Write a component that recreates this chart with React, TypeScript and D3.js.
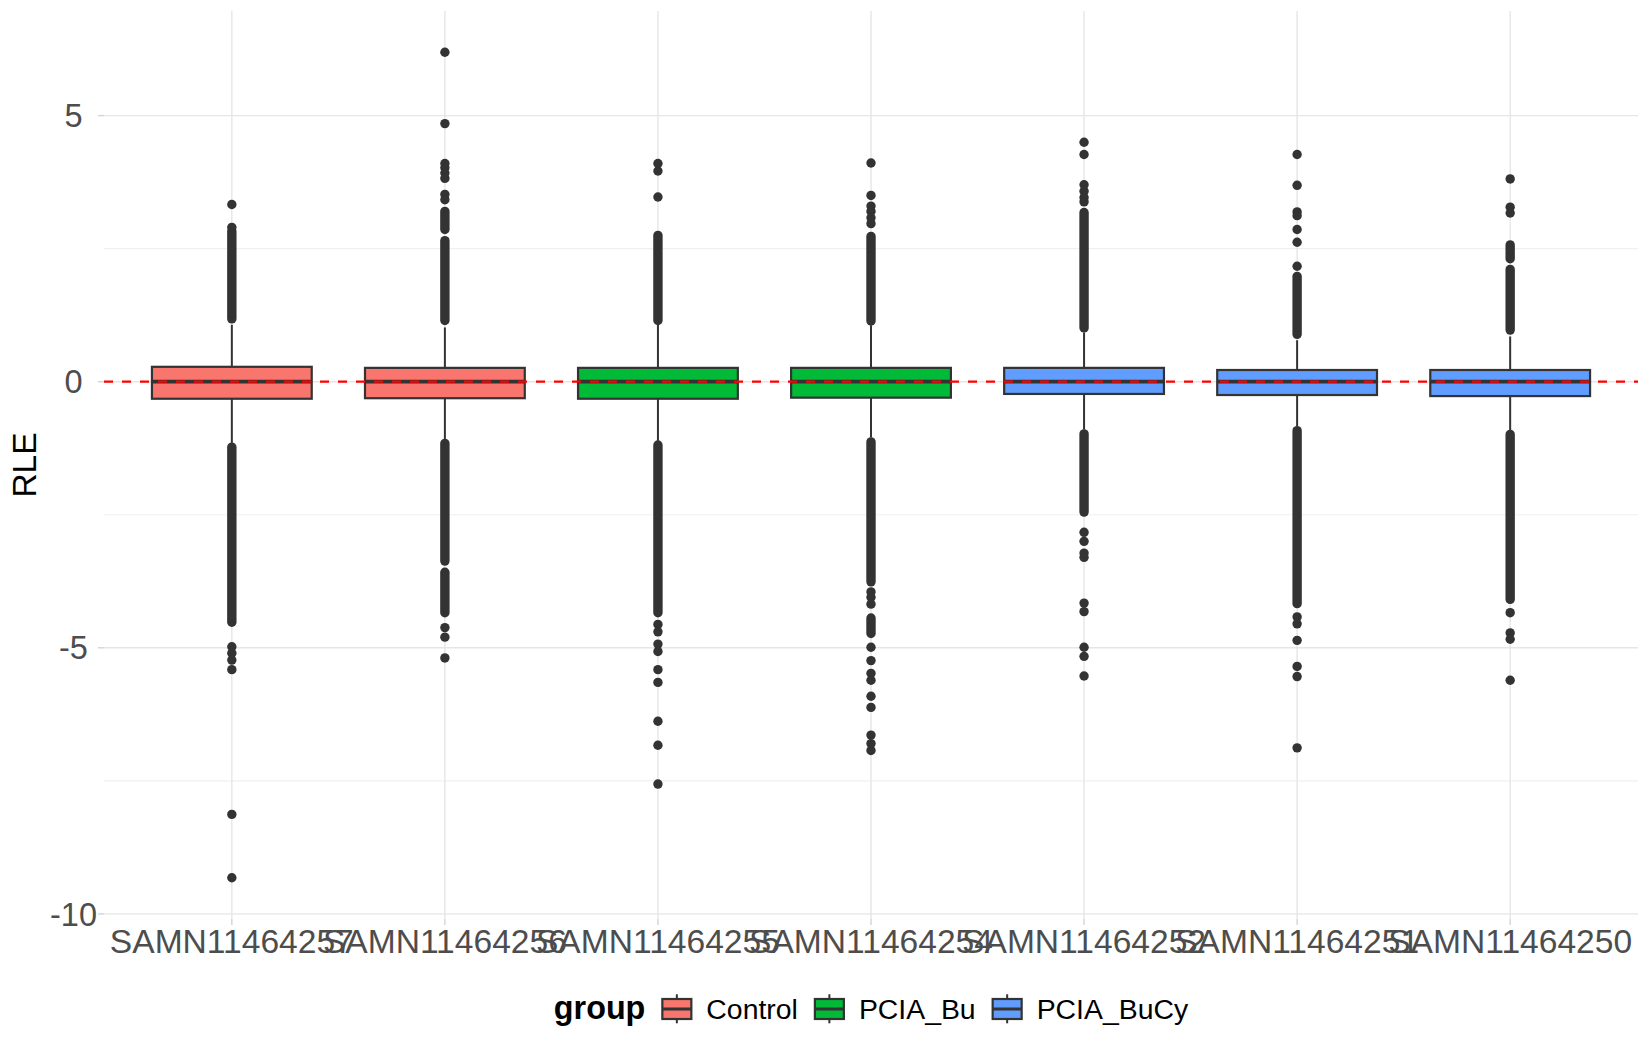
import React, { useEffect, useRef } from "react";
import * as d3 from "d3";

// samples in plotting order
const samples = [
  "SAMN11464257",
  "SAMN11464256",
  "SAMN11464255",
  "SAMN11464254",
  "SAMN11464252",
  "SAMN11464251",
  "SAMN11464250",
];
const sampleGroups = ["Control", "Control", "PCIA_Bu", "PCIA_Bu", "PCIA_BuCy", "PCIA_BuCy", "PCIA_BuCy"];

const groupNames = ["Control", "PCIA_Bu", "PCIA_BuCy"];
const groupColors = ["#F8766D", "#00BA38", "#619CFF"];

// box statistics (RLE)
const lowerWhisker = [-1.15, -1.08, -1.11, -1.05, -0.9, -0.84, -0.91];
const q1 = [-0.32, -0.31, -0.32, -0.3, -0.23, -0.25, -0.27];
const median = [0, 0, 0, 0, 0, 0, 0];
const q3 = [0.28, 0.26, 0.26, 0.26, 0.26, 0.22, 0.22];
const upperWhisker = [1.07, 1.02, 1.07, 1.06, 0.92, 0.78, 0.85];

// runs of outliers so dense they merge into one stroke: [from, to]
const outlierRuns: number[][][] = [
  [[1.18, 2.83], [-1.23, -4.52]],
  [[1.15, 2.65], [2.86, 3.2], [-1.16, -3.37], [-3.58, -4.34]],
  [[1.15, 2.75], [-1.19, -4.34]],
  [[1.14, 2.73], [-1.13, -3.76], [-4.44, -4.73]],
  [[1.01, 3.18], [-0.98, -2.45]],
  [[0.89, 1.98], [-0.92, -4.17]],
  [[0.97, 2.11], [2.31, 2.57], [-0.99, -4.09]],
];

// single outliers
const outlierPoints: number[][] = [
  [3.33, 2.9, -4.98, -5.1, -5.23, -5.41, -8.13, -9.32],
  [6.19, 4.85, 4.1, 4.02, 3.92, 3.82, 3.52, 3.42, -4.62, -4.8, -5.19],
  [4.1, 3.96, 3.47, -4.56, -4.7, -4.93, -5.07, -5.41, -5.65, -6.38, -6.83, -7.56],
  [4.11, 3.5, 3.3, 3.2, 3.08, 2.97, -3.95, -4.05, -4.18, -4.99, -5.24, -5.48, -5.61, -5.91, -6.12, -6.64, -6.8, -6.93],
  [4.5, 4.27, 3.7, 3.58, 3.46, 3.38, -2.83, -3.0, -3.22, -3.3, -4.16, -4.32, -4.99, -5.16, -5.53],
  [4.27, 3.69, 3.19, 3.12, 2.86, 2.62, 2.17, -4.42, -4.55, -4.86, -5.35, -5.54, -6.88],
  [3.81, 3.28, 3.17, -4.34, -4.72, -4.84, -5.61],
];

const yTicks = [-10, -5, 0, 5];
const yMinorTicks = [-7.5, -2.5, 2.5];
const refLine = 0;

const FONT = "'Liberation Sans', Arial, Helvetica, sans-serif";

const App: React.FC = () => {
  const chartRef = useRef<SVGSVGElement | null>(null);

  useEffect(() => {
    const width = 1650;
    const height = 1050;
    const panel = { left: 104, right: 1638, top: 11, bottom: 919 };

    const root = d3.select(chartRef.current);
    root.selectAll("*").remove();
    root.attr("width", width).attr("height", height);

    const allValues = [
      ...outlierPoints.flat(),
      ...outlierRuns.flat(2),
      ...lowerWhisker,
      ...upperWhisker,
    ];
    const lo = d3.min(allValues) as number;
    const hi = d3.max(allValues) as number;
    const pad = (hi - lo) * 0.05;

    const x = d3.scalePoint<string>().domain(samples).range([panel.left, panel.right]).padding(0.6);
    const y = d3.scaleLinear().domain([lo - pad, hi + pad]).range([panel.bottom, panel.top]);
    const boxW = x.step() * 0.75;
    const color = d3.scaleOrdinal<string, string>().domain(groupNames).range(groupColors);

    const svg = root.append("g");

    // grid
    svg
      .selectAll("line.minor")
      .data(yMinorTicks)
      .enter()
      .append("line")
      .attr("x1", panel.left)
      .attr("x2", panel.right)
      .attr("y1", (d) => y(d))
      .attr("y2", (d) => y(d))
      .attr("stroke", "#f0f0f0")
      .attr("stroke-width", 1.1);

    svg
      .selectAll("line.major")
      .data(yTicks)
      .enter()
      .append("line")
      .attr("x1", panel.left)
      .attr("x2", panel.right)
      .attr("y1", (d) => y(d))
      .attr("y2", (d) => y(d))
      .attr("stroke", "#e6e6e6")
      .attr("stroke-width", 1.4);

    svg
      .selectAll("line.vgrid")
      .data(samples)
      .enter()
      .append("line")
      .attr("x1", (d) => x(d) as number)
      .attr("x2", (d) => x(d) as number)
      .attr("y1", panel.top)
      .attr("y2", panel.bottom)
      .attr("stroke", "#e6e6e6")
      .attr("stroke-width", 1.4);

    // ticks
    svg
      .selectAll("line.ytick")
      .data(yTicks)
      .enter()
      .append("line")
      .attr("x1", panel.left - 6)
      .attr("x2", panel.left)
      .attr("y1", (d) => y(d))
      .attr("y2", (d) => y(d))
      .attr("stroke", "#d4d4d4")
      .attr("stroke-width", 1.4);

    svg
      .selectAll("line.xtick")
      .data(samples)
      .enter()
      .append("line")
      .attr("x1", (d) => x(d) as number)
      .attr("x2", (d) => x(d) as number)
      .attr("y1", panel.bottom)
      .attr("y2", panel.bottom + 6)
      .attr("stroke", "#d4d4d4")
      .attr("stroke-width", 1.4);

    // tick labels (centred, as in the original)
    svg
      .selectAll("text.ylab")
      .data(yTicks)
      .enter()
      .append("text")
      .attr("x", 73.5)
      .attr("y", (d) => y(d) + 11.6)
      .attr("text-anchor", "middle")
      .attr("font-family", FONT)
      .attr("font-size", 32.5)
      .attr("fill", "#4d4d4d")
      .text((d) => String(d));

    svg
      .selectAll("text.xlab")
      .data(samples)
      .enter()
      .append("text")
      .attr("x", (d) => x(d) as number)
      .attr("y", 953)
      .attr("text-anchor", "middle")
      .attr("font-family", FONT)
      .attr("font-size", 33.6)
      .attr("fill", "#4d4d4d")
      .text((d) => d);

    svg
      .append("text")
      .attr("transform", `translate(36, ${(panel.top + panel.bottom) / 2}) rotate(-90)`)
      .attr("text-anchor", "middle")
      .attr("font-family", FONT)
      .attr("font-size", 33.5)
      .attr("fill", "#000")
      .text("RLE");

    // boxplots
    const boxes = svg
      .selectAll("g.box")
      .data(samples)
      .enter()
      .append("g")
      .attr("transform", (d) => `translate(${x(d)},0)`);

    boxes
      .append("line")
      .attr("y1", (_d, i) => y(upperWhisker[i]))
      .attr("y2", (_d, i) => y(q3[i]))
      .attr("stroke", "#333333")
      .attr("stroke-width", 2);

    boxes
      .append("line")
      .attr("y1", (_d, i) => y(lowerWhisker[i]))
      .attr("y2", (_d, i) => y(q1[i]))
      .attr("stroke", "#333333")
      .attr("stroke-width", 2);

    boxes
      .append("rect")
      .attr("x", -boxW / 2)
      .attr("width", boxW)
      .attr("y", (_d, i) => y(q3[i]))
      .attr("height", (_d, i) => y(q1[i]) - y(q3[i]))
      .attr("fill", (_d, i) => color(sampleGroups[i]))
      .attr("stroke", "#333333")
      .attr("stroke-width", 2.2);

    boxes
      .append("line")
      .attr("x1", -boxW / 2)
      .attr("x2", boxW / 2)
      .attr("y1", (_d, i) => y(median[i]))
      .attr("y2", (_d, i) => y(median[i]))
      .attr("stroke", "#333333")
      .attr("stroke-width", 3.8);

    boxes.each(function (_d, i) {
      const g = d3.select(this);
      g.selectAll("line.run")
        .data(outlierRuns[i])
        .enter()
        .append("line")
        .attr("y1", (r) => y(r[0]))
        .attr("y2", (r) => y(r[1]))
        .attr("stroke", "#333333")
        .attr("stroke-width", 9.4)
        .attr("stroke-linecap", "round");
      g.selectAll("circle")
        .data(outlierPoints[i])
        .enter()
        .append("circle")
        .attr("cy", (v) => y(v))
        .attr("r", 4.7)
        .attr("fill", "#333333");
    });

    // reference line
    svg
      .append("line")
      .attr("x1", panel.left)
      .attr("x2", panel.right)
      .attr("y1", y(refLine))
      .attr("y2", y(refLine))
      .attr("stroke", "red")
      .attr("stroke-width", 2.2)
      .attr("stroke-dasharray", "9 9");

    // legend
    const legend = svg.append("g");
    const legendY = 1009;
    const title = legend
      .append("text")
      .attr("y", legendY + 10)
      .attr("font-family", FONT)
      .attr("font-size", 32.3)
      .attr("font-weight", "bold")
      .attr("fill", "#000")
      .text("group");
    let cursor = (title.node() as SVGTextElement).getComputedTextLength() + 17;
    const keyW = 29;
    groupNames.forEach((name, i) => {
      const key = legend.append("g").attr("transform", `translate(${cursor},${legendY})`);
      key.append("line").attr("x1", keyW / 2).attr("x2", keyW / 2).attr("y1", -14.7).attr("y2", 14.3)
        .attr("stroke", "#333333").attr("stroke-width", 2);
      key.append("rect").attr("x", 0).attr("width", keyW).attr("y", -10).attr("height", 20)
        .attr("fill", groupColors[i]).attr("stroke", "#333333").attr("stroke-width", 2.2);
      key.append("line").attr("x1", 0).attr("x2", keyW).attr("y1", 0).attr("y2", 0)
        .attr("stroke", "#333333").attr("stroke-width", 3);
      cursor += keyW + 15;
      const t = legend
        .append("text")
        .attr("x", cursor)
        .attr("y", legendY + 10.3)
        .attr("font-family", FONT)
        .attr("font-size", 28.4)
        .attr("fill", "#000")
        .text(name);
      cursor += (t.node() as SVGTextElement).getComputedTextLength();
      if (i < groupNames.length - 1) cursor += 17;
    });
    const center = (panel.left + panel.right) / 2;
    legend.attr("transform", `translate(${center - cursor / 2},0)`);
  }, []);

  return (
    <div style={{ position: "absolute", left: 0, top: 0, background: "#fff" }}>
      <svg ref={chartRef} />
    </div>
  );
};

export default App;
